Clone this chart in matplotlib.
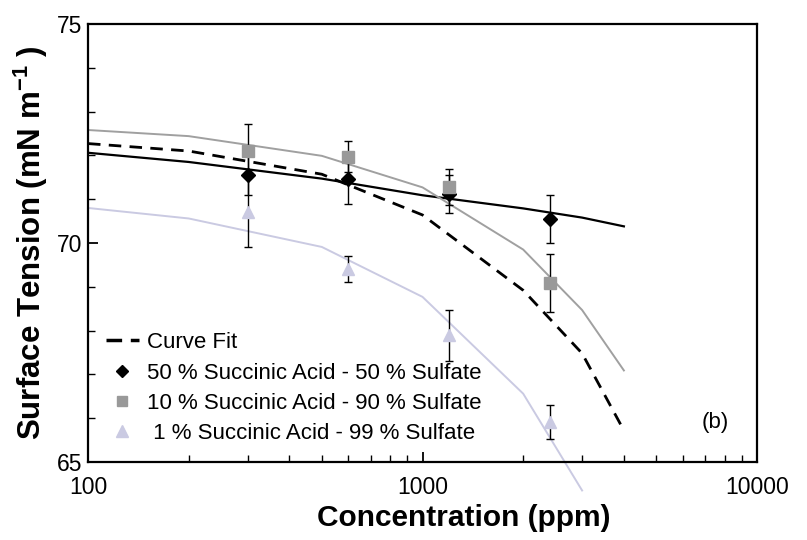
import matplotlib
matplotlib.use("Agg")
import matplotlib.pyplot as plt
from matplotlib.lines import Line2D

plt.rcParams['font.family'] = ['Liberation Sans', 'DejaVu Sans']
plt.rcParams['mathtext.fontset'] = 'custom'
plt.rcParams['mathtext.rm'] = 'Liberation Sans'
plt.rcParams['mathtext.bf'] = 'Liberation Sans:bold'

# Valores medidos (concentração em ppm, tensão superficial em mN/m)
conc_pontos = [300, 600, 1200, 2400]

st_50 = [71.55, 71.45, 71.12, 70.55]
err_50 = [0.45, 0.55, 0.44, 0.55]

st_10 = [72.11, 71.97, 71.28, 69.08]
err_10 = [0.60, 0.36, 0.42, 0.66]

st_1 = [70.71, 69.40, 67.89, 65.91]
err_1 = [0.80, 0.30, 0.58, 0.38]

# Curvas do modelo
conc_curva = [100, 200, 500, 1000, 2000, 3000, 4000]
fit_curva = [72.27, 72.10, 71.57, 70.64, 68.92, 67.48, 65.72]
modelo_50 = [72.06, 71.85, 71.47, 71.09, 70.79, 70.58, 70.38]
modelo_10 = [72.58, 72.44, 71.99, 71.27, 69.85, 68.47, 67.09]
conc_modelo_1 = [100, 200, 500, 1000, 2000, 3000]
modelo_1 = [70.80, 70.56, 69.91, 68.77, 66.56, 64.35]

cor_cinza = '#999999'
cor_lilas = '#cacae2'

fig = plt.figure(figsize=(8.07, 5.40), dpi=100)
ax = fig.add_axes([88 / 807, 1 - 462 / 540, (757 - 88) / 807, (462 - 24) / 540])

ax.plot(conc_curva, modelo_50, color='black', linewidth=1.6, zorder=2)
ax.plot(conc_curva, modelo_10, color='#a0a0a0', linewidth=1.4, zorder=2)
ax.plot(conc_modelo_1, modelo_1, color=cor_lilas, linewidth=1.4, zorder=2, clip_on=False)
ax.plot(conc_curva, fit_curva, color='black', linewidth=2.0, linestyle=(0, (4.5, 3)), zorder=2)

ax.errorbar(conc_pontos, st_1, yerr=err_1, fmt='none', ecolor='black', elinewidth=1.0, capsize=3, zorder=3)
ax.errorbar(conc_pontos, st_50, yerr=err_50, fmt='none', ecolor='black', elinewidth=1.0, capsize=3, zorder=3)
ax.errorbar(conc_pontos, st_10, yerr=err_10, fmt='none', ecolor='black', elinewidth=1.0, capsize=3, zorder=3)

ax.plot(conc_pontos, st_1, linestyle='none', marker='^', markersize=9, color=cor_lilas, zorder=4)
ax.plot(conc_pontos, st_50, linestyle='none', marker='D', markersize=7, color='black', zorder=4)
ax.plot(conc_pontos, st_10, linestyle='none', marker='s', markersize=8, color=cor_cinza, zorder=5)

ax.set_xscale('log')
ax.set_xlim(100, 10000)
ax.set_ylim(65, 75)
ax.set_xticks([100, 1000, 10000])
ax.set_xticklabels(['100', '1000', '10000'])
ax.set_yticks([65, 70, 75])
ax.set_yticks(range(65, 76), minor=True)

ax.tick_params(axis='both', which='major', direction='in', length=7, width=1.3, labelsize=16.5)
ax.tick_params(axis='x', which='major', pad=10)
ax.tick_params(axis='y', which='major', pad=4)
ax.tick_params(axis='both', which='minor', direction='in', length=5, width=1.0, labelleft=False, labelbottom=False)
for s in ax.spines.values():
    s.set_linewidth(1.6)

ax.set_xlabel('Concentration (ppm)', fontsize=21.5, fontweight='bold')
ax.xaxis.set_label_coords(0.562, -0.095)
ax.set_ylabel(r'Surface Tension (mN m$^{\mathbf{-1}}$ )', fontsize=22.5, fontweight='bold', labelpad=5)

ax.text(0.937, 0.09, '(b)', transform=ax.transAxes, fontsize=16, ha='center', va='center')

# Legenda
handles = [
    Line2D([], [], color='black', linewidth=2.5, linestyle=(0, (4.5, 2.5))),
    Line2D([], [], linestyle='none', marker='D', markersize=6, color='black'),
    Line2D([], [], linestyle='none', marker='s', markersize=7, color=cor_cinza),
    Line2D([], [], linestyle='none', marker='^', markersize=8, color=cor_lilas),
]
labels = ['Curve Fit', '50 % Succinic Acid - 50 % Sulfate',
          '10 % Succinic Acid - 90 % Sulfate', ' 1 % Succinic Acid - 99 % Sulfate']
ax.legend(handles, labels, loc='lower left', bbox_to_anchor=(0.0, 0.0), frameon=False,
          fontsize=16, handlelength=1.5, handletextpad=0.35, labelspacing=0.42,
          borderaxespad=0.4)

plt.savefig('out.png', dpi=100)
plt.close()
